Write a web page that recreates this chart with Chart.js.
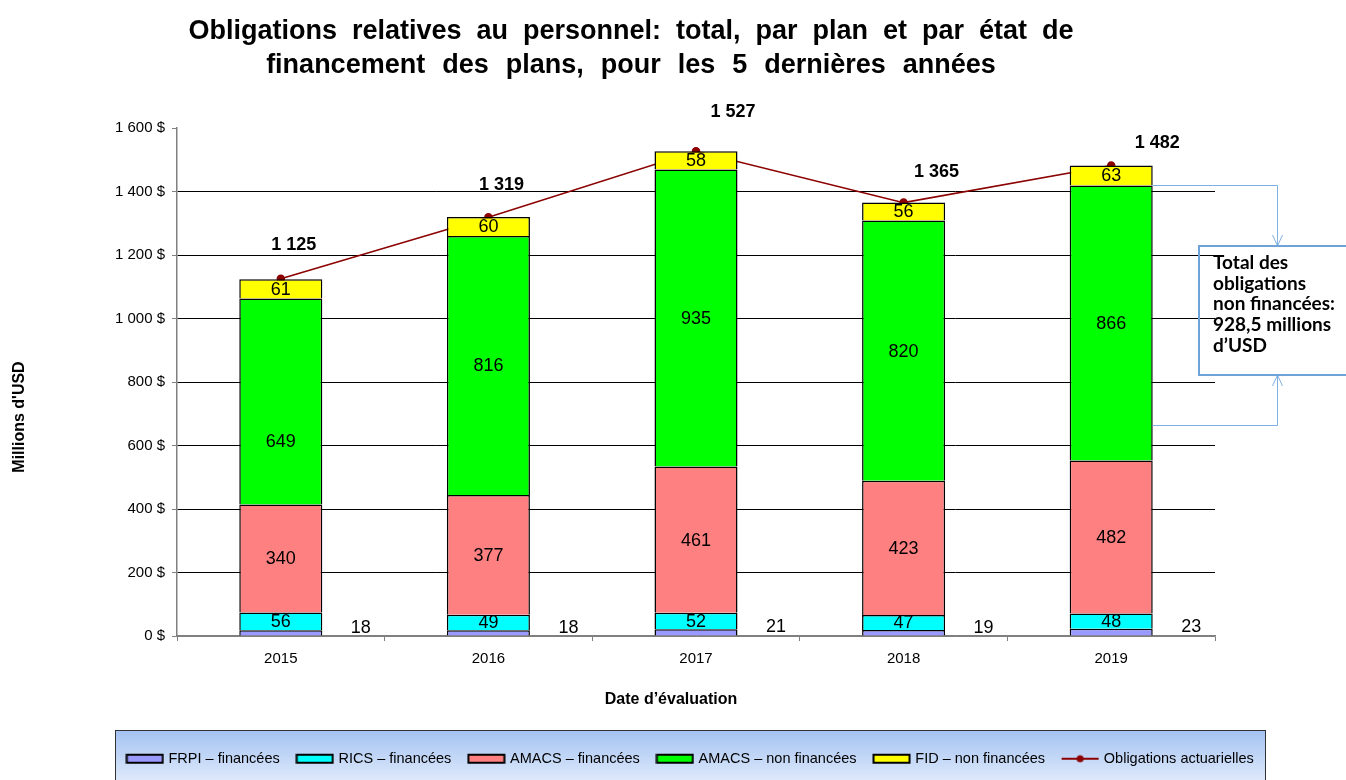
<!DOCTYPE html>
<html lang="fr">
<head>
<meta charset="UTF-8">
<title>Obligations relatives au personnel</title>
<script src="https://cdn.jsdelivr.net/npm/chart.js"></script>
<style>
  html, body { margin: 0; padding: 0; background: #fff; }
  #wrap { width: 1346px; height: 780px; position: relative; }
</style>
</head>
<body>
<div id="wrap"><canvas id="chart" width="1346" height="780"></canvas></div>
<script>
// données (millions d'USD)
const years = ['2015', '2016', '2017', '2018', '2019'];
const frpi = [18, 18, 21, 19, 23];
const rics = [56, 49, 52, 47, 48];
const amacsFin = [340, 377, 461, 423, 482];
const amacsNonFin = [649, 816, 935, 820, 866];
const fidNonFin = [61, 60, 58, 56, 63];
const obligations = [1125, 1319, 1527, 1365, 1482];
const yMax = 1600;
const yStep = 200;

const FONT = '"Liberation Sans", Arial, sans-serif';

function fmt(v) {
  return String(v).replace(/\B(?=(\d{3})+(?!\d))/g, ' ');
}

// petites images pour la légende
function boxIcon(fill) {
  const c = document.createElement('canvas');
  c.width = 39; c.height = 12;
  const g = c.getContext('2d');
  g.fillStyle = fill;
  g.fillRect(1.5, 2, 36, 8);
  g.strokeStyle = '#000';
  g.lineWidth = 2;
  g.strokeRect(1.5, 2, 36, 8);
  return c;
}
function lineIcon(color) {
  const c = document.createElement('canvas');
  c.width = 39; c.height = 12;
  const g = c.getContext('2d');
  g.strokeStyle = color;
  g.lineWidth = 2;
  g.beginPath(); g.moveTo(1, 6); g.lineTo(38, 6); g.stroke();
  g.fillStyle = color;
  g.beginPath(); g.arc(19.5, 6, 3.5, 0, Math.PI * 2); g.fill();
  return c;
}

const lineColor = '#8b0000';

const barDefaults = {
  type: 'bar',
  stack: 'plans',
  borderColor: '#000',
  borderWidth: 1.5,
  barPercentage: 0.4,
  categoryPercentage: 1
};

const labelsPlugin = {
  id: 'labels',
  afterDatasetsDraw(chart) {
    const ctx = chart.ctx;
    ctx.save();
    ctx.fillStyle = '#000';
    ctx.textAlign = 'center';
    ctx.textBaseline = 'middle';
    ctx.font = '18px ' + FONT;
    for (let d = 0; d < 5; d++) {
      const meta = chart.getDatasetMeta(d);
      meta.data.forEach((bar, i) => {
        const v = chart.data.datasets[d].data[i];
        if (d === 0) {
          ctx.fillText(fmt(v), bar.x + 80, bar.y - 2);
        } else {
          // l'étiquette verte de 2015 est placée plus bas dans l'original
          const shift = (d === 3 && i === 0) ? 40 : 0;
          ctx.fillText(fmt(v), bar.x, (bar.y + bar.base) / 2 + 1 + shift);
        }
      });
    }
    // totaux au-dessus
    const dx = [13, 13, 37, 33, 46];
    const dy = [-34, -32, -39, -31, -22];
    ctx.font = 'bold 18px ' + FONT;
    chart.getDatasetMeta(5).data.forEach((pt, i) => {
      ctx.fillText(fmt(obligations[i]), pt.x + dx[i], pt.y + dy[i]);
    });
    ctx.restore();
  }
};

const decorPlugin = {
  id: 'decor',
  beforeDraw(chart) {
    const ctx = chart.ctx;
    ctx.save();
    // fond de la légende
    const gr = ctx.createLinearGradient(0, 730, 0, 782);
    gr.addColorStop(0, '#a3c2f2');
    gr.addColorStop(1, '#dfeafb');
    ctx.fillStyle = gr;
    ctx.fillRect(115, 730, 1150, 52);
    ctx.strokeStyle = '#333';
    ctx.lineWidth = 1;
    ctx.strokeRect(115.5, 730.5, 1150, 52);
    ctx.restore();
  },
  afterDraw(chart) {
    const ctx = chart.ctx;
    ctx.save();
    ctx.fillStyle = '#000';
    ctx.textAlign = 'center';
    ctx.textBaseline = 'middle';
    ctx.font = 'bold 27px ' + FONT;
    ctx.wordSpacing = '7.5px';
    ctx.fillText('Obligations relatives au personnel: total, par plan et par état de', 631, 32);
    ctx.wordSpacing = '9.5px';
    ctx.fillText('financement des plans, pour les 5 dernières années', 631, 66);
    ctx.wordSpacing = '0px';

    ctx.font = 'bold 16px ' + FONT;
    ctx.fillText('Date d\u2019évaluation', 671, 700);
    ctx.translate(20, 417);
    ctx.rotate(-Math.PI / 2);
    ctx.fillText('Millions d\'USD', 0, 0);
    ctx.restore();

    // accolade et encadré
    const y = chart.scales.y;
    const bar = chart.getDatasetMeta(3).data[4];
    const right = bar.x + bar.width / 2;
    const yTop = Math.round(y.getPixelForValue(frpi[4] + rics[4] + amacsFin[4] + amacsNonFin[4])) + 0.5;
    const yBot = Math.round(y.getPixelForValue(665)) + 0.5;
    const ax = 1277.5;
    const boxTop = 246, boxBot = 375;
    ctx.save();
    ctx.strokeStyle = '#7fb0e3';
    ctx.lineWidth = 1;
    ctx.beginPath();
    ctx.moveTo(right, yTop); ctx.lineTo(ax, yTop); ctx.lineTo(ax, boxTop);
    ctx.moveTo(ax - 5, boxTop - 11); ctx.lineTo(ax, boxTop); ctx.lineTo(ax + 5, boxTop - 11);
    ctx.moveTo(right, yBot); ctx.lineTo(ax, yBot); ctx.lineTo(ax, boxBot);
    ctx.moveTo(ax - 5, boxBot + 11); ctx.lineTo(ax, boxBot); ctx.lineTo(ax + 5, boxBot + 11);
    ctx.stroke();
    ctx.strokeStyle = '#6fa3d8';
    ctx.lineWidth = 2;
    ctx.strokeRect(1199, boxTop, 160, boxBot - boxTop);
    ctx.fillStyle = '#000';
    ctx.font = 'bold 19px Lato, "Open Sans", sans-serif';
    ctx.textAlign = 'left';
    ctx.textBaseline = 'middle';
    const lines = ['Total des', 'obligations', 'non financées:', '928,5 millions', 'd\u2019USD'];
    lines.forEach((t, i) => ctx.fillText(t, 1213, 263 + i * 20.6));
    ctx.restore();
  }
};

new Chart(document.getElementById('chart'), {
  data: {
    labels: years,
    datasets: [
      { ...barDefaults, label: 'FRPI \u2013 financées', data: frpi, backgroundColor: '#9999ff' },
      { ...barDefaults, label: 'RICS \u2013 financées', data: rics, backgroundColor: '#00ffff' },
      { ...barDefaults, label: 'AMACS \u2013 financées', data: amacsFin, backgroundColor: '#ff8080' },
      { ...barDefaults, label: 'AMACS \u2013 non financées', data: amacsNonFin, backgroundColor: '#00ff00' },
      { ...barDefaults, label: 'FID \u2013 non financées', data: fidNonFin, backgroundColor: '#ffff00' },
      {
        type: 'line',
        stack: 'total',
        label: 'Obligations actuarielles',
        data: obligations,
        borderColor: lineColor,
        backgroundColor: lineColor,
        borderWidth: 1.5,
        pointRadius: 3.5,
        pointBackgroundColor: lineColor,
        pointBorderColor: lineColor,
        tension: 0
      }
    ]
  },
  options: {
    responsive: false,
    animation: false,
    layout: { padding: { left: 36, right: 0, top: 128, bottom: 4 } },
    plugins: {
      title: { display: false },
      tooltip: { enabled: false },
      legend: {
        position: 'bottom',
        labels: {
          usePointStyle: true,
          pointStyleWidth: 33,
          padding: 18.5,
          color: '#000',
          font: { family: FONT, size: 14.5 },
          generateLabels(chart) {
            return chart.data.datasets.map((ds, i) => ({
              text: ds.label,
              pointStyle: ds.type === 'line' ? lineIcon(lineColor) : boxIcon(ds.backgroundColor),
              fillStyle: ds.backgroundColor,
              strokeStyle: ds.borderColor,
              lineWidth: 0,
              hidden: false,
              datasetIndex: i,
              fontColor: '#000'
            }));
          }
        }
      }
    },
    scales: {
      x: {
        stacked: true,
        grid: {
          offset: true,
          drawOnChartArea: false,
          tickLength: 5,
          tickColor: '#808080'
        },
        border: { color: '#808080', width: 1.5 },
        ticks: { color: '#000', padding: 9, font: { family: FONT, size: 15 } },
        afterFit(scale) {
          const lg = scale.chart.legend;
          scale.height = 780 - 4 - lg.height - 636;
        }
      },
      y: {
        stacked: true,
        min: 0,
        max: yMax,
        ticks: {
          stepSize: yStep,
          color: '#000',
          padding: 7,
          font: { family: FONT, size: 15 },
          callback: v => fmt(v) + ' $'
        },
        grid: {
          tickLength: 5,
          lineWidth: 1,
          color: c => (c.tick.value === yMax ? 'rgba(0,0,0,0)' : (c.tick.value === 0 ? '#808080' : '#000')),
          tickColor: '#808080'
        },
        border: { color: '#808080', width: 1.5 },
        afterFit(scale) { scale.width = 177 - 36; }
      },
      y2: {
        position: 'right',
        display: true,
        grid: { display: false },
        border: { display: false },
        ticks: { display: false },
        afterFit(scale) { scale.width = 131; }
      }
    }
  },
  plugins: [labelsPlugin, decorPlugin]
});
</script>
</body>
</html>
